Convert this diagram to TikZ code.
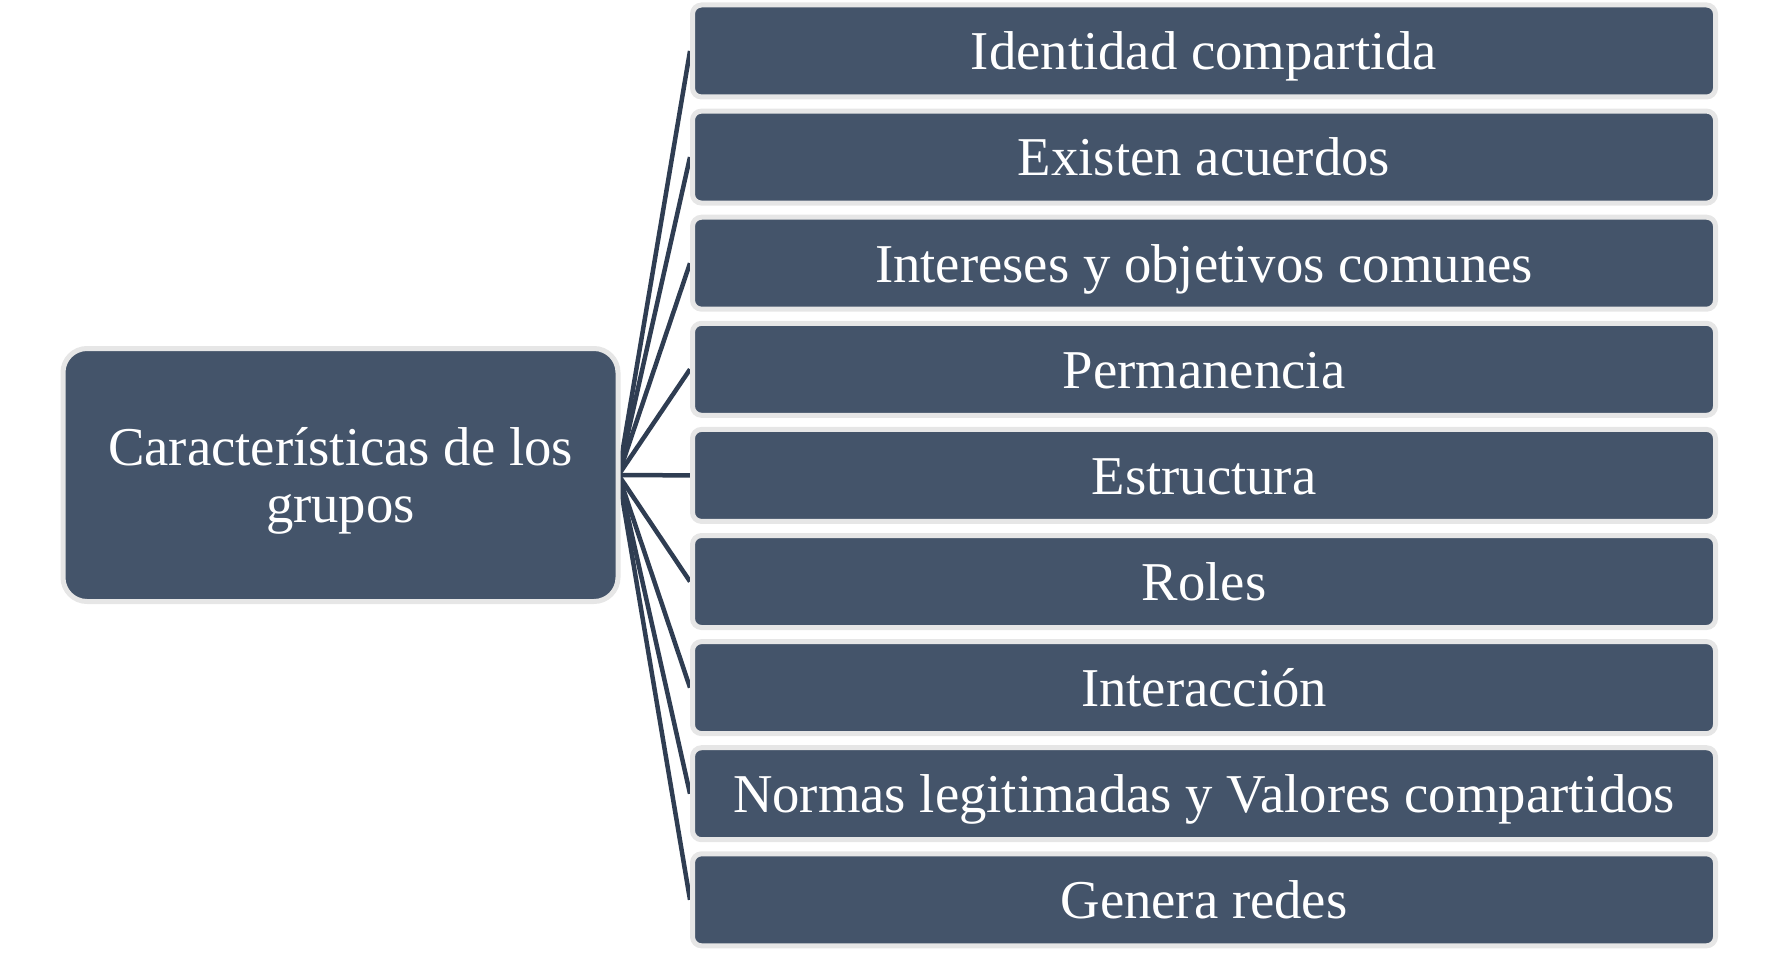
\documentclass[tikz,border=0pt]{standalone}
\usepackage{fontspec}
\setmainfont{Liberation Serif}
\usetikzlibrary{backgrounds}
\definecolor{boxfill}{HTML}{44546A}
\definecolor{boxedge}{HTML}{E6E6E6}
\definecolor{linkcol}{HTML}{2F3D52}
\tikzset{
  itembox/.style={draw=boxedge, line width=5pt, fill=boxfill, rounded corners=9pt,
    minimum width=1023pt, minimum height=92pt, inner sep=0pt, text=white,
    text height=37.7pt, text depth=0pt,
    font=\fontsize{54.7}{60}\selectfont, anchor=center},
  mainbox/.style={draw=boxedge, line width=5pt, fill=boxfill, rounded corners=24pt,
    minimum width=555pt, minimum height=253pt, inner sep=0pt, text=white, align=center,
    font=\fontsize{54.7}{57}\selectfont, anchor=center},
  link/.style={draw=linkcol, line width=4.5pt}
}
\begin{document}
\begin{tikzpicture}[x=1pt,y=-1pt]
\useasboundingbox (0,0) rectangle (1777,960);
\node[mainbox] (M) at (340.5,475) {\raisebox{-6pt}[\height][\depth]{\parbox{500pt}{\centering Características de los\\grupos}}};
\foreach \t [count=\i from 0] in {Identidad compartida,Existen acuerdos,Intereses y objetivos comunes,Permanencia,Estructura,Roles,Interacción,Normas legitimadas y Valores compartidos,Genera redes}{
  \node[itembox] (R\i) at (1204,51+106.1*\i) {\t};
}
\begin{scope}[on background layer]
\foreach \i in {0,...,8}{
  \draw[link] ([xshift=-2pt]M.east) -- (R\i.west);
}
\end{scope}
\end{tikzpicture}
\end{document}
